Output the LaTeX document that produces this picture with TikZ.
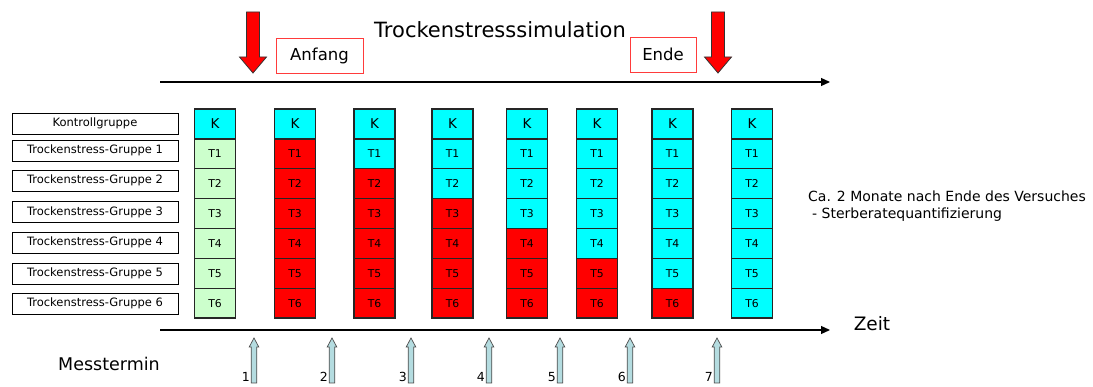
\documentclass[tikz,border=0pt]{standalone}
\usepackage{fontspec}
\setmainfont{DejaVu Sans}
\newfontfamily\cellfont{DejaVu Sans}
\usetikzlibrary{arrows.meta}
\definecolor{kcyan}{HTML}{00FFFF}
\definecolor{tred}{HTML}{FF0000}
\definecolor{tgreen}{HTML}{CCFFCC}
\definecolor{mblue}{HTML}{B4DCE0}
\definecolor{boxred}{HTML}{FF3B3B}
\tikzset{
  cell/.style={draw=black!85, line width=1.2pt, minimum width=41pt, minimum height=29.86pt, inner sep=0pt, font=\cellfont\fontsize{10.8}{12}\selectfont},
  kcell/.style={cell, fill=kcyan, font=\cellfont\fontsize{13.5}{15}\selectfont},
  lbl/.style={draw=black, line width=0.8pt, minimum width=166pt, minimum height=21pt, inner sep=0pt, font=\fontsize{11.5}{13}\selectfont},
  redbox/.style={draw=boxred, line width=0.9pt, inner sep=0pt, font=\fontsize{16.5}{19}\selectfont},
  axis/.style={line width=1.2pt, -{Triangle[length=9pt,width=8pt]}},
  bigred/.style={fill=tred, draw=black!80, line width=0.8pt},
  mess/.style={fill=mblue, draw=black!70, line width=0.7pt},
  txt/.style={inner sep=0pt}
}
\newcommand{\redarrowat}[1]{%
  \filldraw[bigred] (#1-6.5,12) -- (#1+6.5,12) -- (#1+6.5,57) -- (#1+13.5,57) -- (#1,73) -- (#1-13.5,57) -- (#1-6.5,57) -- cycle;}
\newcommand{\messarrowat}[1]{%
  \filldraw[mess] (#1-2.8,383) -- (#1+2.8,383) -- (#1+2.8,347) -- (#1+4.8,347) -- (#1,338) -- (#1-4.8,347) -- (#1-2.8,347) -- cycle;}
\begin{document}
\begin{tikzpicture}[x=1pt,y=-1pt]
\useasboundingbox (0,0) rectangle (1093,387);
% title and top
\node[txt, font=\fontsize{21}{25}\selectfont] (title) at (500,30) {Trockenstresssimulation};
\node[redbox, minimum width=87pt, minimum height=35pt] (anfang) at (319.5,55.5) {Anfang};
\node[redbox, minimum width=66pt, minimum height=35pt] (ende) at (663,54.5) {Ende};
\redarrowat{253}
\redarrowat{718}
\coordinate (t0) at (160,82);
\coordinate (t1) at (830,82);
\draw[axis] (t0) -- (t1);
\coordinate (b0) at (160,330);
\coordinate (b1) at (830,330);
\draw[axis] (b0) -- (b1);
% labels
\node[lbl, font=\fontsize{11.5}{13}\selectfont] (l0) at (95,123.5) {Kontrollgruppe};
\node[lbl] (l1) at (95,150.5) {Trockenstress-Gruppe 1};
\node[lbl] (l2) at (95,180.5) {Trockenstress-Gruppe 2};
\node[lbl] (l3) at (95,212) {Trockenstress-Gruppe 3};
\node[lbl] (l4) at (95,242.5) {Trockenstress-Gruppe 4};
\node[lbl] (l5) at (95,273.5) {Trockenstress-Gruppe 5};
\node[lbl] (l6) at (95,303.5) {Trockenstress-Gruppe 6};
% columns
\foreach \x [count=\c] in {215,295,374.5,452.5,527,597,672.5,752} {
  \node[kcell] (c\c-0) at (\x,124) {K};
  \foreach \i in {1,...,6} {
    \pgfmathtruncatemacro{\isred}{(\c>1) && (\i>=\c-1) ? 1 : 0}
    \ifnum\c=1
      \node[cell, fill=tgreen] (c\c-\i) at (\x,124+\i*29.86) {T\i};
    \else\ifnum\isred=1
      \node[cell, fill=tred] (c\c-\i) at (\x,124+\i*29.86) {T\i};
    \else
      \node[cell, fill=kcyan] (c\c-\i) at (\x,124+\i*29.86) {T\i};
    \fi\fi
  }
}
% right text
\node[txt, anchor=west, font=\fontsize{14}{16}\selectfont] (ca) at (808,196) {Ca. 2 Monate nach Ende des Versuches};
\node[txt, anchor=west, font=\fontsize{14}{16}\selectfont] (st) at (812,214.5) {- Sterberatequantifizierung};
% bottom
\node[txt, font=\fontsize{18.5}{21}\selectfont] (zeit) at (872,324) {Zeit};
\node[txt, font=\fontsize{17.5}{21}\selectfont] (mess) at (109,364) {Messtermin};
\foreach \x [count=\n] in {254,332,411,489,560,630,717} {
  \messarrowat{\x}
  \node[txt, anchor=east, font=\fontsize{12.5}{14}\selectfont] (n\n) at (\x-4,377) {\n};
}
\end{tikzpicture}
\end{document}
